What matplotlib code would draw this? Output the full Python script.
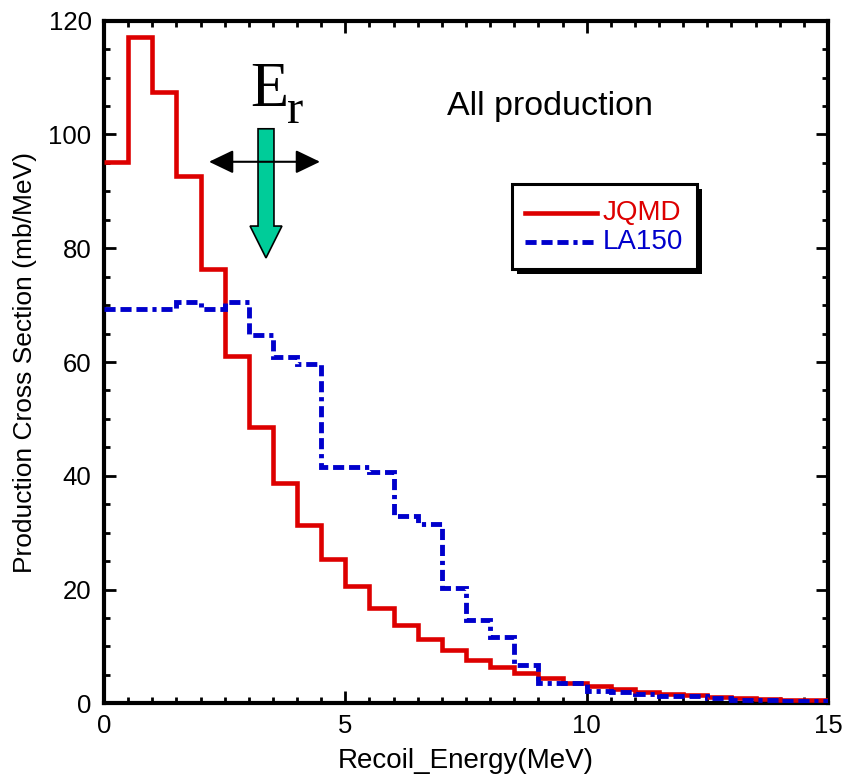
import matplotlib as mpl
mpl.use('Agg')
import matplotlib.pyplot as plt
from matplotlib.patches import FancyArrow, Rectangle
from matplotlib.lines import Line2D
import numpy as np

plt.rcParams['font.family'] = ['Liberation Sans', 'DejaVu Sans']
plt.rcParams['lines.scale_dashes'] = False

# bin edges (0.5 MeV bins) and production cross sections (mb/MeV)
bin_width = 0.5
edges = np.arange(0, 15 + bin_width / 2, bin_width)
jqmd = [95.2, 117.1, 107.4, 92.7, 76.3, 61.0, 48.5, 38.7, 31.3, 25.3,
        20.6, 16.7, 13.7, 11.25, 9.3, 7.7, 6.4, 5.3, 4.4, 3.6,
        3.0, 2.55, 2.0, 1.65, 1.5, 1.1, 0.9, 0.75, 0.65, 0.55]
la150 = [69.4, 69.4, 69.4, 70.5, 69.4, 70.5, 64.75, 60.8, 59.6, 41.5,
         41.5, 40.6, 32.9, 31.5, 20.2, 14.6, 11.6, 6.7, 3.55, 3.5,
         2.15, 2.0, 1.6, 1.25, 1.3, 0.9, 0.65, 0.55, 0.45, 0.4]

red = '#dd0000'
blue = '#0000cc'
green = '#00cc99'
blue_dash = (0, [8, 3.5, 8, 3.5, 8, 3.5, 3, 3.5])

fig = plt.figure(figsize=(8.45, 7.84), dpi=100)
ax = fig.add_axes([0.1231, 0.1029, 0.8568, 0.8707])

ax.stairs(jqmd, edges, baseline=None, color=red, lw=3.3, zorder=3)
ax.stairs(la150, edges, baseline=None, color=blue, lw=3.5, ls=blue_dash, zorder=4)

ax.set_xlim(0, 15)
ax.set_ylim(0, 120)
ax.set_xticks([0, 5, 10, 15])
ax.set_yticks([0, 20, 40, 60, 80, 100, 120])
ax.set_xticks(np.arange(0, 15.01, 0.5), minor=True)
ax.set_yticks(np.arange(0, 120.01, 5), minor=True)
ax.tick_params(which='both', direction='in', top=True, right=True, width=2)
ax.tick_params(which='major', length=8.5, labelsize=18.5)
ax.tick_params(which='minor', length=4.5)
ax.tick_params(axis='x', pad=8)
ax.tick_params(axis='y', pad=9)
for s in ax.spines.values():
    s.set_linewidth(3)

ax.set_xlabel('Recoil_Energy(MeV)', fontsize=20, labelpad=7)
ax.set_ylabel('Production Cross Section (mb/MeV)', fontsize=19, labelpad=8)

ax.text(7.1, 103.4, 'All production', fontsize=24.5, ha='left', va='baseline')

# E_r label and arrows
ax.text(3.02, 105.0, 'E', fontsize=45, family=['Liberation Serif'], ha='left', va='baseline')
ax.text(3.80, 102.0, 'r', fontsize=35, family=['Liberation Serif'], ha='left', va='baseline')
ax.add_patch(FancyArrow(3.356, 101.0, 0, -22.7, width=0.33, head_width=0.66,
                        head_length=5.6, length_includes_head=True,
                        facecolor=green, edgecolor='black', lw=1.2, zorder=5))
ax.annotate('', xy=(4.475, 95.2), xytext=(2.175, 95.2),
            arrowprops=dict(arrowstyle='<|-|>,head_length=1.0,head_width=0.48',
                            mutation_scale=15, color='black', lw=1.5,
                            shrinkA=0, shrinkB=0), zorder=6)

# legend box with shadow
x0, x1, y0, y1 = 0.5635, 0.819, 0.636, 0.761
ax.add_patch(Rectangle((x0 + 0.007, y0 - 0.0075), x1 - x0, y1 - y0, transform=ax.transAxes,
                       facecolor='black', edgecolor='black', lw=0, zorder=7))
ax.add_patch(Rectangle((x0, y0), x1 - x0, y1 - y0, transform=ax.transAxes,
                       facecolor='white', edgecolor='black', lw=2.2, zorder=8))
ax.add_line(Line2D([0.582, 0.681], [0.719, 0.719], transform=ax.transAxes,
                   color=red, lw=3.3, zorder=9))
ax.add_line(Line2D([0.582, 0.681], [0.676, 0.676], transform=ax.transAxes,
                   color=blue, lw=3.5, ls=blue_dash, zorder=9))
ax.text(0.689, 0.719, 'JQMD', transform=ax.transAxes, fontsize=20, color=red,
        ha='left', va='center', zorder=9)
ax.text(0.689, 0.676, 'LA150', transform=ax.transAxes, fontsize=20, color=blue,
        ha='left', va='center', zorder=9)

plt.savefig('out.png', dpi=100)
